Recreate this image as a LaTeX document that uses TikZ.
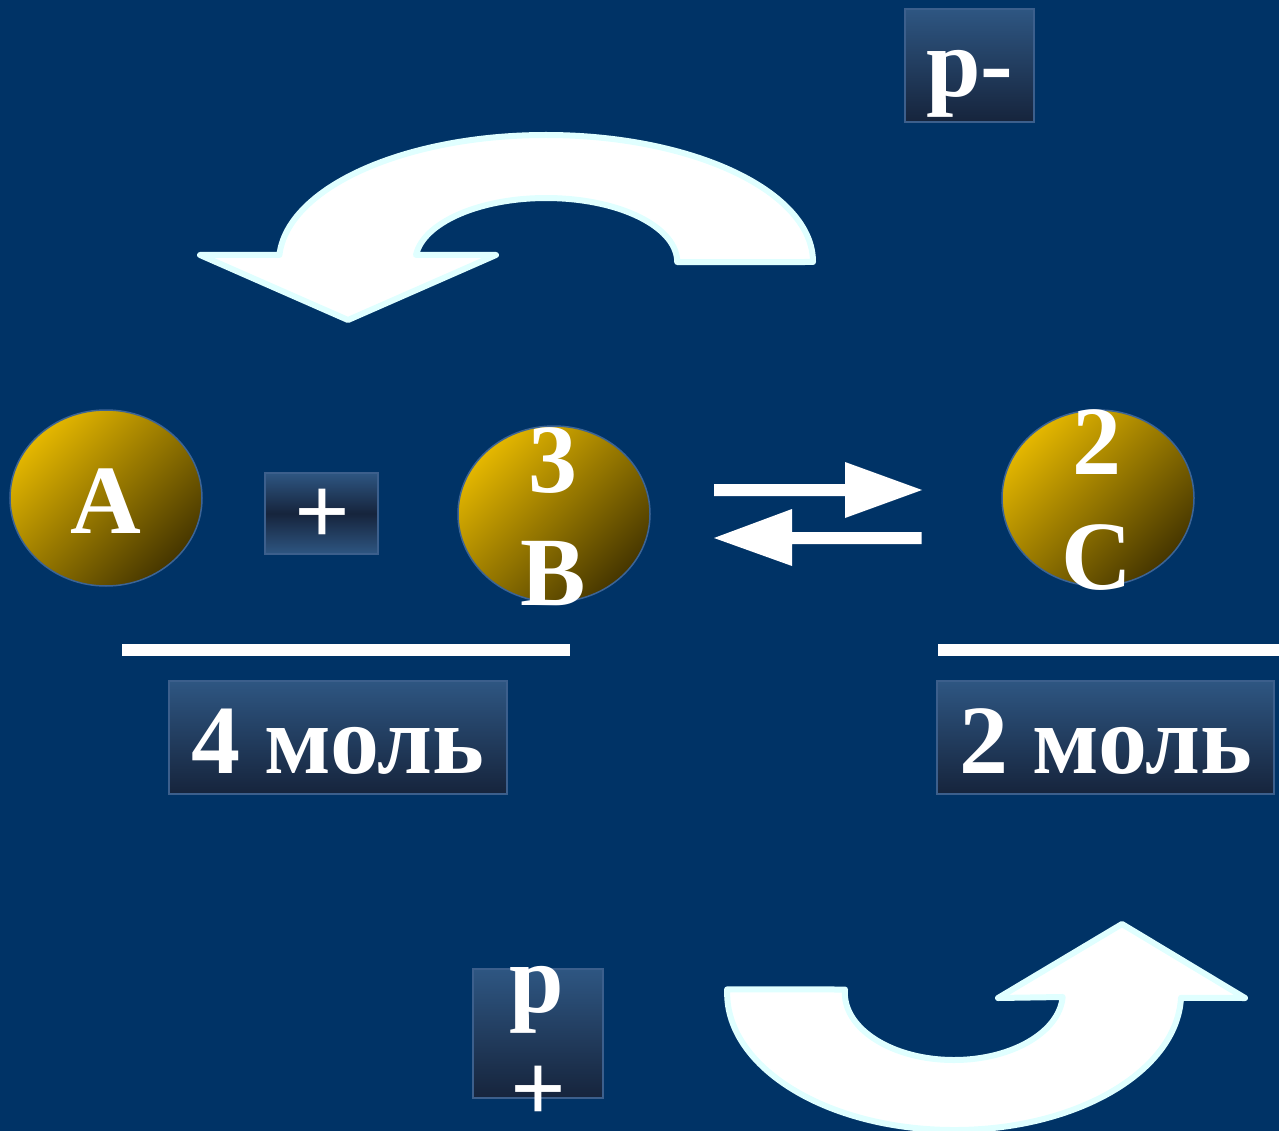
\documentclass[tikz,border=0pt]{standalone}
\usepackage{fontspec}
\setmainfont{Liberation Serif}
\usetikzlibrary{shapes.geometric}
\definecolor{bg}{RGB}{0,51,102}
\definecolor{boxlight}{RGB}{46,86,130}
\definecolor{boxdark}{RGB}{22,36,60}
\definecolor{boxborder}{RGB}{60,95,140}
\definecolor{goldlight}{RGB}{228,183,0}
\definecolor{golddark}{RGB}{70,54,0}
\definecolor{ballborder}{RGB}{60,100,150}
\definecolor{arrowrim}{RGB}{224,255,255}
\tikzset{
  txt/.style={text=white, inner sep=0pt, outer sep=0pt, font=\fontsize{98}{113}\selectfont\bfseries},
  plustxt/.style={text=white, inner sep=0pt, outer sep=0pt, font=\fontsize{98}{113}\selectfont\bfseries},
  ball/.style={ellipse, draw=ballborder, line width=1.5pt, inner sep=0pt, outer sep=0pt,
    top color=goldlight, bottom color=golddark, shading angle=45,
    minimum width=192pt, minimum height=176pt},
  gbox/.style={rectangle, draw=boxborder, line width=1.5pt, inner sep=0pt, outer sep=0pt,
    top color=boxlight, bottom color=boxdark},
  gboxmid/.style={rectangle, draw=boxborder, line width=1.5pt, inner sep=0pt, outer sep=0pt,
    top color=boxlight, bottom color=boxlight, middle color=boxdark},
  bigarrow/.style={fill=white, draw=arrowrim, line width=6pt, line join=round},
  eqarrow/.style={fill=white, draw=none},
  bar/.style={fill=white, draw=none}
}
\begin{document}
\begin{tikzpicture}[x=1pt,y=1pt]
\useasboundingbox (0,0) rectangle (1279,-1131);
\fill[bg] (0,0) rectangle (1279,-1131);

% top curved arrow
\path[bigarrow] (813,-262) arc[start angle=0, end angle=176.8, x radius=267, y radius=127]
  -- (200,-255) -- (348,-320) -- (496,-255) -- (416,-255)
  arc[start angle=173.7, end angle=0, x radius=131, y radius=64] -- cycle;

% bottom curved arrow
\path[bigarrow] (727.1,-989.4) -- (845,-989.5)
  arc[start angle=177, end angle=356.6, x radius=109, y radius=67]
  -- (998,-998) -- (1122,-924) -- (1245,-998) -- (1181,-997.8)
  arc[start angle=358, end angle=178.5, x radius=227, y radius=137] -- cycle;

% balls
\node[ball] (balla) at (106,-498) {};
\node[ball] (ballb) at (554,-514) {};
\node[ball] (ballc) at (1098,-498) {};
\node[txt, anchor=base] (ta) at (106,-533) {A};
\node[txt, anchor=base] (tb3) at (553,-492) {3};
\node[txt, anchor=base] (tbb) at (553,-605) {B};
\node[txt, anchor=base] (tc2) at (1097,-474) {2};
\node[txt, anchor=base] (tcc) at (1097,-589) {C};

% plus box
\node[gboxmid, minimum width=113pt, minimum height=81pt] (plusbox) at (321.5,-513.5) {};
\node[plustxt] (plus) at (322,-516.5) {+};

% equilibrium arrows
\fill[eqarrow] (714,-484) -- (845,-484) -- (845,-462) -- (922,-490) -- (845,-518) -- (845,-496) -- (714,-496) -- cycle;
\fill[eqarrow] (921.5,-532) -- (792,-532) -- (792,-509) -- (714,-538) -- (792,-566) -- (792,-544) -- (921.5,-544) -- cycle;

% bars
\fill[bar] (122,-644) rectangle (570,-656);
\fill[bar] (938,-644) rectangle (1279,-656);

% mole boxes
\node[gbox, minimum width=338pt, minimum height=113pt] (box4) at (338,-737.5) {};
\node[txt, anchor=base] (t4) at (338,-773) {4 моль};
\node[gbox, minimum width=337pt, minimum height=113pt] (box2) at (1105.5,-737.5) {};
\node[txt, anchor=base] (t2) at (1106,-773) {2 моль};

% p- box
\node[gbox, minimum width=129pt, minimum height=113pt] (pmbox) at (969.5,-65.5) {};
\node[txt, anchor=base] (pm) at (970,-97) {p-};

% p+ box
\node[gbox, minimum width=130pt, minimum height=129pt] (ppbox) at (538,-1033.5) {};
\node[txt, anchor=base] (pp) at (537,-1012) {p};
\node[plustxt] (ppplus) at (538,-1093.5) {+};
\end{tikzpicture}
\end{document}
